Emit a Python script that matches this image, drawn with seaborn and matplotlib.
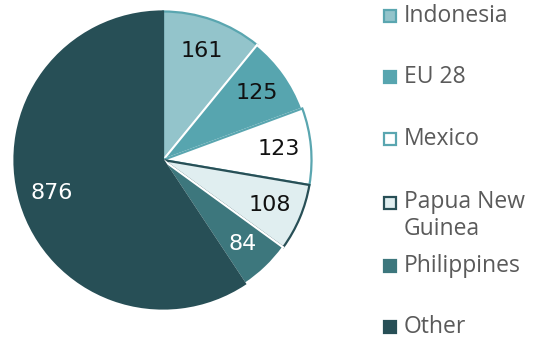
import matplotlib
matplotlib.use("Agg")
import matplotlib.pyplot as plt
from matplotlib.patches import Rectangle
import seaborn as sns

sns.set_theme(style="white")
plt.rcParams["font.family"] = ["Open Sans", "DejaVu Sans"]

# Data
categories = ["Indonesia", "EU 28", "Mexico", "Papua New\nGuinea", "Philippines", "Other"]
values = [161, 125, 123, 108, 84, 876]

# Styling per slice
fill_colors = ["#93c4cb", "#57a5af", "#ffffff", "#e0eef0", "#3d777d", "#274f56"]
edge_colors = ["#5aa6b0", "#ffffff", "#5aa6b0", "#284f56", "#ffffff", "#274f56"]
label_colors = ["#111111", "#111111", "#111111", "#111111", "#ffffff", "#ffffff"]

fig = plt.figure(figsize=(5.38, 3.42), dpi=100)
ax = fig.add_axes([13 / 538, 32 / 342, 300 / 538, 300 / 342])

wedges, texts = ax.pie(
    values,
    colors=fill_colors,
    startangle=90,
    counterclock=False,
    labels=[str(v) for v in values],
    labeldistance=0.78,
    wedgeprops=dict(linewidth=1.6),
    textprops=dict(fontsize=16, family="DejaVu Sans"),
)
for w, ec in zip(wedges, edge_colors):
    w.set_edgecolor(ec)
for t, c in zip(texts, label_colors):
    t.set_color(c)
    t.set_ha("center")
    t.set_va("center")
ax.set_xlim(-1.01, 1.01)
ax.set_ylim(-1.01, 1.01)
ax.set_aspect("equal")

# Legend drawn as squares and labels on the right
legend_rows = [16, 77, 139, 203, 266, 327]
for cat, fc, ec, y in zip(categories, fill_colors, edge_colors, legend_rows):
    border = ec if ec != "#ffffff" else fc
    size = 12
    fig.patches.append(Rectangle(
        ((390 - size / 2) / 538, (342 - y - size / 2) / 342),
        size / 538, size / 342,
        transform=fig.transFigure, facecolor=fc, edgecolor=border, linewidth=1.6,
    ))
    if "\n" in cat:
        fig.text(404 / 538, (342 - y + 13) / 342, cat, fontsize=16.5, color="#5a5a5a",
                 ha="left", va="top", linespacing=1.15)
    else:
        fig.text(404 / 538, (342 - y) / 342, cat, fontsize=16.5, color="#5a5a5a",
                 ha="left", va="center")

fig.savefig("out.png", dpi=100)
